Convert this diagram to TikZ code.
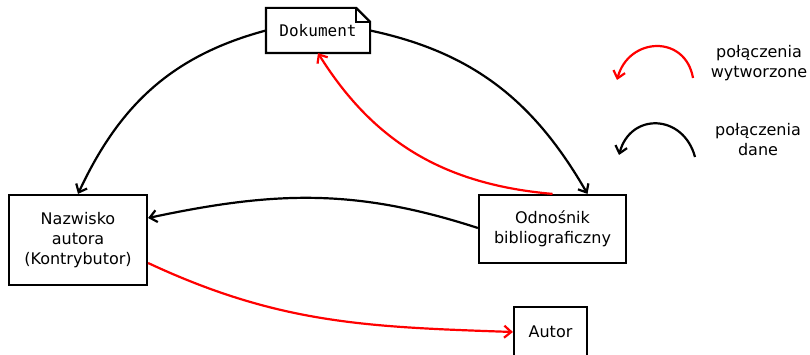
\documentclass[tikz,border=0pt]{standalone}
\usepackage{fontspec}
\setmainfont{DejaVu Sans}
\setmonofont{DejaVu Sans Mono}
\usetikzlibrary{arrows.meta}

\begin{document}
\begin{tikzpicture}[x=1pt, y=-1pt, line width=2.2pt,
                    every node/.style={font=\fontsize{16}{20}\selectfont, align=center},
                    box/.style={draw, line width=2.2pt, inner sep=0pt},
                    link/.style={line width=2.2pt, -{Straight Barb[length=7pt,width=12pt]}},
                    given/.style={link, black},
                    made/.style={link, red}]
                    \useasboundingbox (0,0) rectangle (810,355);
                    \node (doc) at (318,30.5) [minimum width=102pt, minimum height=43pt] {\ttfamily Dokument};
                    \draw (doc.south west) -- (doc.north west) -- ([xshift=-14pt]doc.north east) -- ([yshift=-14pt]doc.north east) -- (doc.south east) -- cycle;
                    \draw[line width=1.4pt] ([xshift=-14pt]doc.north east) |- ([yshift=-14pt]doc.north east);
                    \node[box, minimum width=138pt, minimum height=90pt] (name) at (78,240) {Nazwisko\\autora\\(Kontrybutor)};
                    \node[box, minimum width=147pt, minimum height=68pt] (ref) at (552.5,229) {Odnośnik\\bibliograficzny};
                    \node[box, minimum width=73pt, minimum height=50pt] (author) at (550.5,332) {Autor};
                    % linki
                    \draw[given] (doc.west) to[out=195, in=65] (name.north);
                    \draw[given] (doc.east) to[out=-12, in=120] ([xshift=35pt]ref.north);
                    \draw[made] (ref.north) to[out=175, in=-58] (doc.south);
                    \draw[given] ([yshift=1pt]ref.west) to[out=162, in=12] ([yshift=22pt]name.east);
                    \draw[made] ([yshift=-23pt]name.east) to[out=-25, in=178] (author.west);
                    % legenda
                    \coordinate (r1) at (693,78); \coordinate (r2) at (617,80);
                    \coordinate (b1) at (695,157); \coordinate (b2) at (619,155);
                    \draw[made] (r1) to[out=100, in=75, looseness=1.5] (r2);
                    \draw[given] (b1) to[out=105, in=75, looseness=1.5] (b2);
                    \node (lr) at (759,63) {połączenia\\wytworzone};
                    \node (lb) at (758,140) {połączenia\\dane};
                \end{tikzpicture}
\end{document}
